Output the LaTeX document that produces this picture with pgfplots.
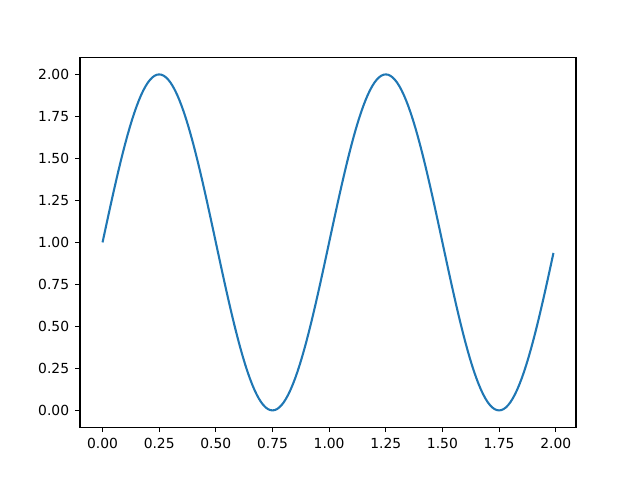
\documentclass[border=0pt]{standalone}
\usepackage{pgfplots}
\pgfplotsset{compat=1.18}
\usepackage{fontspec}
\setmainfont{DejaVu Sans}
\definecolor{mplblue}{HTML}{1F77B4}
\begin{document}
\begin{tikzpicture}
\path[use as bounding box] (-60pt,-39.6pt) rectangle (420pt,320.4pt);
\begin{axis}[
  at={(0,0)}, anchor=south west,
  scale only axis,
  width=372pt, height=277.2pt,
  xmin=-0.0995, xmax=2.0895,
  ymin=-0.1, ymax=2.1,
  xtick={0,0.25,0.5,0.75,1,1.25,1.5,1.75,2},
  ytick={0,0.25,0.5,0.75,1,1.25,1.5,1.75,2},
  tick align=outside,
  major tick length=3.65pt,
  tick style={line width=0.83pt, black},
  axis line style={line width=0.83pt},
  xtick pos=bottom, ytick pos=left,
  /pgf/number format/.cd, fixed, fixed zerofill, precision=2, assume math mode=true,
  /pgfplots/.cd,
  tick label style={font=\fontsize{10.4}{12}\selectfont},
  xticklabel style={yshift=-1pt},
  yticklabel style={xshift=-1pt},
]
\addplot[mplblue, line width=1.56pt, no markers] table {
x y
0.00 1.0000
0.01 1.0628
0.02 1.1253
0.03 1.1874
0.04 1.2487
0.05 1.3090
0.06 1.3681
0.07 1.4258
0.08 1.4818
0.09 1.5358
0.10 1.5878
0.11 1.6374
0.12 1.6845
0.13 1.7290
0.14 1.7705
0.15 1.8090
0.16 1.8443
0.17 1.8763
0.18 1.9048
0.19 1.9298
0.20 1.9511
0.21 1.9686
0.22 1.9823
0.23 1.9921
0.24 1.9980
0.25 2.0000
0.26 1.9980
0.27 1.9921
0.28 1.9823
0.29 1.9686
0.30 1.9511
0.31 1.9298
0.32 1.9048
0.33 1.8763
0.34 1.8443
0.35 1.8090
0.36 1.7705
0.37 1.7290
0.38 1.6845
0.39 1.6374
0.40 1.5878
0.41 1.5358
0.42 1.4818
0.43 1.4258
0.44 1.3681
0.45 1.3090
0.46 1.2487
0.47 1.1874
0.48 1.1253
0.49 1.0628
0.50 1.0000
0.51 0.9372
0.52 0.8747
0.53 0.8126
0.54 0.7513
0.55 0.6910
0.56 0.6319
0.57 0.5742
0.58 0.5182
0.59 0.4642
0.60 0.4122
0.61 0.3626
0.62 0.3155
0.63 0.2710
0.64 0.2295
0.65 0.1910
0.66 0.1557
0.67 0.1237
0.68 0.0952
0.69 0.0702
0.70 0.0489
0.71 0.0314
0.72 0.0177
0.73 0.0079
0.74 0.0020
0.75 0.0000
0.76 0.0020
0.77 0.0079
0.78 0.0177
0.79 0.0314
0.80 0.0489
0.81 0.0702
0.82 0.0952
0.83 0.1237
0.84 0.1557
0.85 0.1910
0.86 0.2295
0.87 0.2710
0.88 0.3155
0.89 0.3626
0.90 0.4122
0.91 0.4642
0.92 0.5182
0.93 0.5742
0.94 0.6319
0.95 0.6910
0.96 0.7513
0.97 0.8126
0.98 0.8747
0.99 0.9372
1.00 1.0000
1.01 1.0628
1.02 1.1253
1.03 1.1874
1.04 1.2487
1.05 1.3090
1.06 1.3681
1.07 1.4258
1.08 1.4818
1.09 1.5358
1.10 1.5878
1.11 1.6374
1.12 1.6845
1.13 1.7290
1.14 1.7705
1.15 1.8090
1.16 1.8443
1.17 1.8763
1.18 1.9048
1.19 1.9298
1.20 1.9511
1.21 1.9686
1.22 1.9823
1.23 1.9921
1.24 1.9980
1.25 2.0000
1.26 1.9980
1.27 1.9921
1.28 1.9823
1.29 1.9686
1.30 1.9511
1.31 1.9298
1.32 1.9048
1.33 1.8763
1.34 1.8443
1.35 1.8090
1.36 1.7705
1.37 1.7290
1.38 1.6845
1.39 1.6374
1.40 1.5878
1.41 1.5358
1.42 1.4818
1.43 1.4258
1.44 1.3681
1.45 1.3090
1.46 1.2487
1.47 1.1874
1.48 1.1253
1.49 1.0628
1.50 1.0000
1.51 0.9372
1.52 0.8747
1.53 0.8126
1.54 0.7513
1.55 0.6910
1.56 0.6319
1.57 0.5742
1.58 0.5182
1.59 0.4642
1.60 0.4122
1.61 0.3626
1.62 0.3155
1.63 0.2710
1.64 0.2295
1.65 0.1910
1.66 0.1557
1.67 0.1237
1.68 0.0952
1.69 0.0702
1.70 0.0489
1.71 0.0314
1.72 0.0177
1.73 0.0079
1.74 0.0020
1.75 0.0000
1.76 0.0020
1.77 0.0079
1.78 0.0177
1.79 0.0314
1.80 0.0489
1.81 0.0702
1.82 0.0952
1.83 0.1237
1.84 0.1557
1.85 0.1910
1.86 0.2295
1.87 0.2710
1.88 0.3155
1.89 0.3626
1.90 0.4122
1.91 0.4642
1.92 0.5182
1.93 0.5742
1.94 0.6319
1.95 0.6910
1.96 0.7513
1.97 0.8126
1.98 0.8747
1.99 0.9372
};
\end{axis}
\end{tikzpicture}
\end{document}
